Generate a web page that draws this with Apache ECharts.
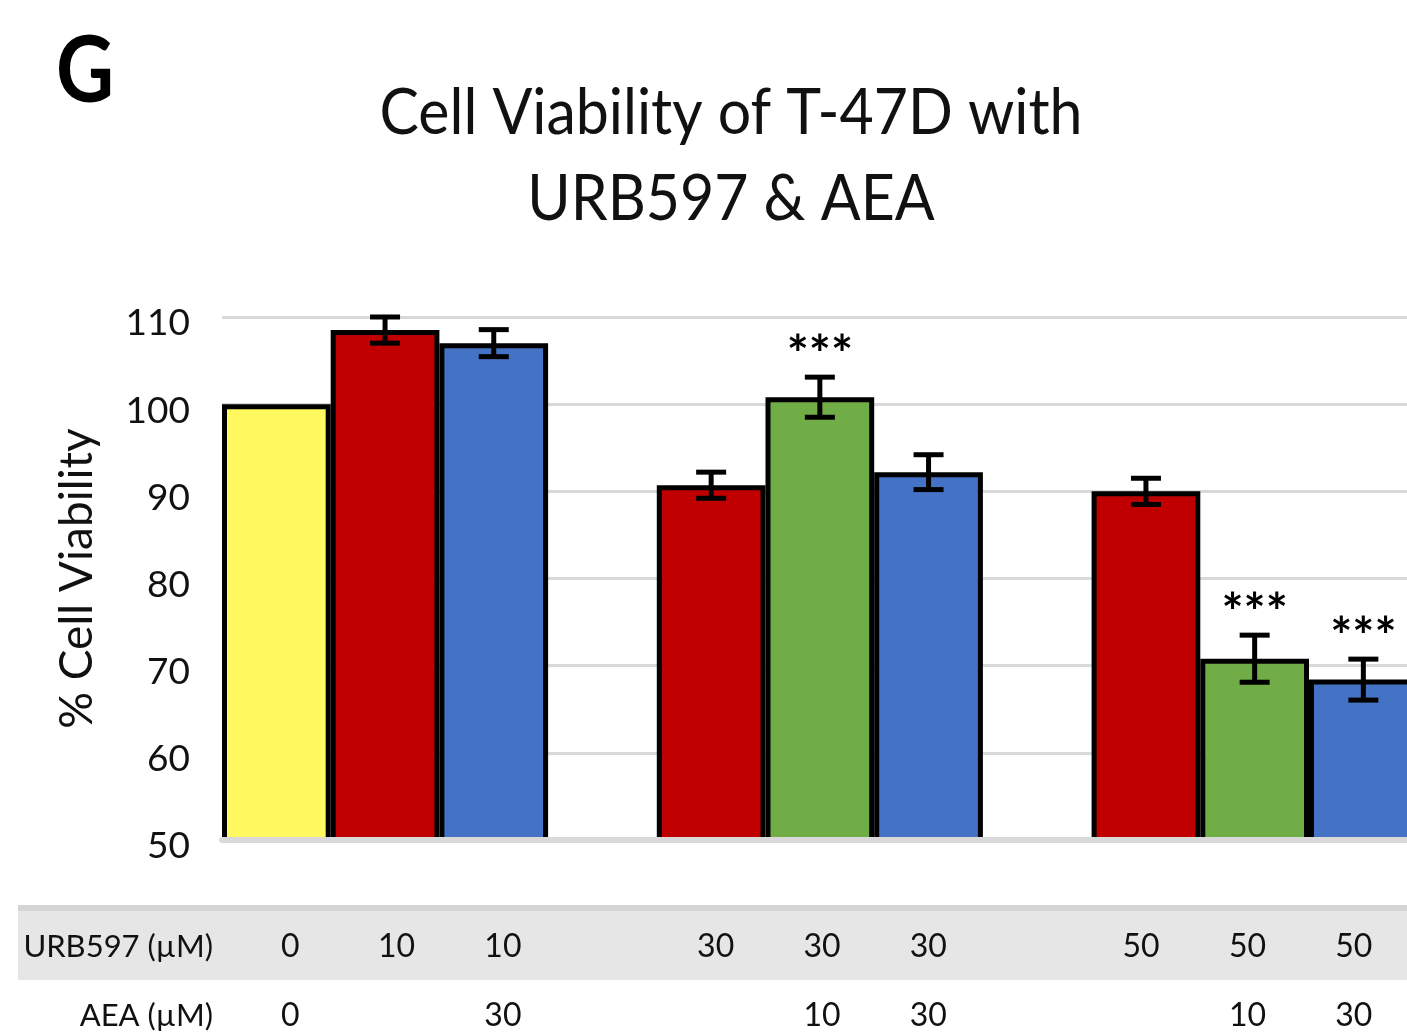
<!DOCTYPE html>
<html>
<head>
<meta charset="utf-8">
<script src="https://cdn.jsdelivr.net/npm/echarts@6/dist/echarts.min.js"></script>
<style>
  html, body { margin: 0; padding: 0; background: #ffffff; }
  #chart { width: 1407px; height: 1032px; }
</style>
</head>
<body>
<div id="chart"></div>
<script>
// ---- data ----
const categories = ['Ctrl', 'U10', 'U10+A30', 'gap1', 'U30', 'U30+A10', 'U30+A30', 'gap2', 'U50', 'U50+A10', 'U50+A30'];
const urbLabels = ['0', '10', '10', '', '30', '30', '30', '', '50', '50', '50'];
const aeaLabels = ['0', '', '30', '', '', '10', '30', '', '', '10', '30'];
const viability = [100, 108.5, 107, null, 90.7, 100.8, 92.2, null, 90.0, 70.8, 68.4];
const errors = [0, 1.5, 1.55, null, 1.5, 2.3, 2.0, null, 1.5, 2.7, 2.35];
const significance = ['', '', '', '', '', '***', '', '', '', '***', '***'];
const yTicks = { min: 50, max: 110, interval: 10 };

// ---- styling ----
const FONT = 'Lato, "Open Sans", sans-serif';
const TEXT = '#111111';
const SLOT_PX = 108.7;      // pixel width of one bar slot
const PLOT_LEFT = 222;
const PLOT_W = 1407 - PLOT_LEFT;
function barColor(i) {
  if (urbLabels[i] === '0') return '#FFF95F';
  if (aeaLabels[i] === '') return '#C00000';
  if (aeaLabels[i] === '10') return '#70AD47';
  return '#4472C4';
}

const barData = [];
const errItems = [];
viability.forEach((v, i) => {
  if (v == null) return;
  barData.push({ value: [i, v], name: categories[i], itemStyle: { color: barColor(i) } });
  errItems.push([i, v, errors[i] || 0]);
});

const chart = echarts.init(document.getElementById('chart'), null, { renderer: 'canvas' });

chart.setOption({
  backgroundColor: '#ffffff',
  animation: false,
  graphic: [
    {
      type: 'text', x: 731, y: 71, scaleX: 1, scaleY: 1.07, z: 10,
      style: {
        text: 'Cell Viability of T-47D with\nURB597 & AEA',
        font: '59px ' + FONT, fill: TEXT,
        align: 'center', verticalAlign: 'top', lineHeight: 80
      }
    },
    {
      type: 'text', x: 56, y: 26, scaleX: 1, scaleY: 1.15, z: 10,
      style: { text: 'G', font: 'bold 80px ' + FONT, fill: '#000000', align: 'left', verticalAlign: 'top' }
    },
    {
      type: 'rect', z: -10, silent: true,
      shape: { x: 18, y: 905, width: 1389, height: 75 },
      style: { fill: '#e6e6e6' }
    },
    {
      type: 'rect', z: -9, silent: true,
      shape: { x: 18, y: 905, width: 1389, height: 6 },
      style: { fill: '#d5d5d5' }
    }
  ],
  grid: [
    { left: PLOT_LEFT, top: 317, width: PLOT_W, height: 523, containLabel: false },
    { left: 237, top: 900, width: 1170, height: 48, containLabel: false }
  ],
  xAxis: [
    {
      gridIndex: 0, type: 'value', min: -0.5, max: -0.5 + PLOT_W / SLOT_PX,
      axisLine: { show: true, onZero: false, lineStyle: { color: '#d9d9d9', width: 6 } },
      axisTick: { show: false }, axisLabel: { show: false },
      splitLine: { show: false }, z: 4
    },
    {
      gridIndex: 1, type: 'category', data: categories, position: 'bottom', offset: 0,
      axisLine: { show: false }, axisTick: { show: false },
      name: 'URB597 (µM)', nameLocation: 'start', nameGap: 24,
      nameTextStyle: { fontFamily: FONT, fontSize: 31, color: TEXT },
      axisLabel: {
        interval: 0, margin: -16, fontFamily: FONT, fontSize: 32, color: TEXT,
        formatter: (val, idx) => urbLabels[idx]
      }
    },
    {
      gridIndex: 1, type: 'category', data: categories, position: 'bottom', offset: 69,
      axisLine: { show: false }, axisTick: { show: false },
      name: 'AEA (µM)', nameLocation: 'start', nameGap: 24,
      nameTextStyle: { fontFamily: FONT, fontSize: 31, color: TEXT },
      axisLabel: {
        interval: 0, margin: -16, fontFamily: FONT, fontSize: 32, color: TEXT,
        formatter: (val, idx) => aeaLabels[idx]
      }
    }
  ],
  yAxis: [
    {
      gridIndex: 0, type: 'value', min: yTicks.min, max: yTicks.max, interval: yTicks.interval,
      axisLine: { show: false }, axisTick: { show: false },
      splitLine: { show: true, lineStyle: { color: '#d9d9d9', width: 3 } },
      axisLabel: {
        margin: 32, fontFamily: FONT, fontSize: 37, color: TEXT,
        verticalAlign: 'top', lineHeight: 13
      },
      name: '% Cell Viability', nameLocation: 'middle', nameGap: 122, nameRotate: 90,
      nameTextStyle: { fontFamily: FONT, fontSize: 46, color: TEXT }
    },
    { gridIndex: 1, type: 'value', show: false }
  ],
  series: [
    {
      name: 'Viability', type: 'bar', xAxisIndex: 0, yAxisIndex: 0,
      data: barData, barWidth: SLOT_PX, clip: true,
      itemStyle: { borderColor: '#000000', borderWidth: 5 },
      z: 2
    },
    {
      name: 'Error', type: 'custom', xAxisIndex: 0, yAxisIndex: 0,
      data: errItems, z: 5, clip: false,
      encode: { x: 0, y: 1 },
      renderItem: function (params, api) {
        const idx = api.value(0), v = api.value(1), e = api.value(2);
        const children = [];
        const top = api.coord([idx, v + e]);
        const bot = api.coord([idx, v - e]);
        const cw = 15;
        if (e > 0) {
          const st = { stroke: '#000000', lineWidth: 5 };
          children.push({ type: 'line', shape: { x1: top[0], y1: top[1], x2: bot[0], y2: bot[1] }, style: st });
          children.push({ type: 'line', shape: { x1: top[0] - cw, y1: top[1], x2: top[0] + cw, y2: top[1] }, style: st });
          children.push({ type: 'line', shape: { x1: bot[0] - cw, y1: bot[1], x2: bot[0] + cw, y2: bot[1] }, style: st });
        }
        const star = significance[errItems[params.dataIndex][0]];
        if (star) {
          children.push({
            type: 'text',
            style: {
              x: top[0], y: top[1] - 21, text: star,
              font: 'bold 52px ' + FONT, fill: '#000000',
              textAlign: 'center', textVerticalAlign: 'middle'
            }
          });
        }
        return { type: 'group', children: children };
      }
    }
  ]
});
</script>
</body>
</html>
